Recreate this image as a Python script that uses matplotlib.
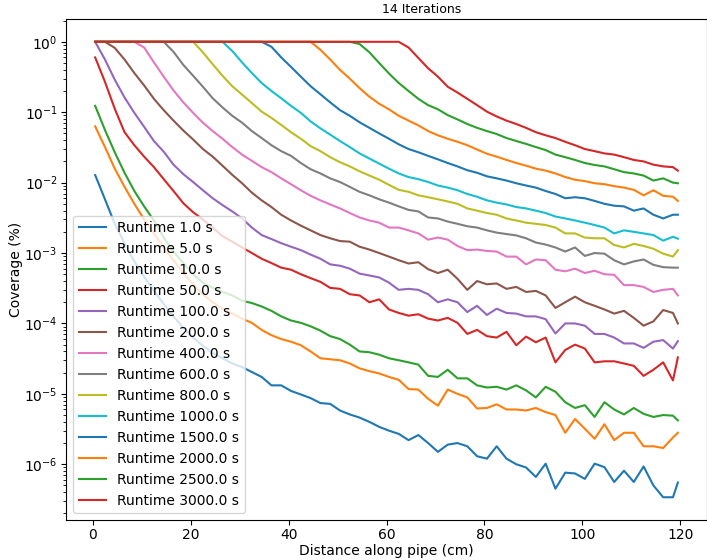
import matplotlib
matplotlib.use("Agg")
import matplotlib.pyplot as plt

# sample positions along the pipe (cm)
distance = [0.5, 2.5, 4.5, 6.5, 8.5, 10.5, 12.5, 14.5, 16.5, 18.5,
            20.5, 22.5, 24.5, 26.5, 28.5, 30.5, 32.5, 34.5, 36.5, 38.5,
            40.5, 42.5, 44.5, 46.5, 48.5, 50.5, 52.5, 54.5, 56.5, 58.5,
            60.5, 62.5, 64.5, 66.5, 68.5, 70.5, 72.5, 74.5, 76.5, 78.5,
            80.5, 82.5, 84.5, 86.5, 88.5, 90.5, 92.5, 94.5, 96.5, 98.5,
            100.5, 102.5, 104.5, 106.5, 108.5, 110.5, 112.5, 114.5, 116.5, 118.5,
            119.5]

runtimes = [1.0, 5.0, 10.0, 50.0, 100.0, 200.0, 400.0, 600.0, 800.0,
            1000.0, 1500.0, 2000.0, 2500.0, 3000.0]

cov_1 = [1.28e-2, 5.8e-3, 2.6e-3, 1.38e-3, 7.6e-4, 4.6e-4, 2.9e-4, 1.9e-4, 1.26e-4, 8.7e-5,
         6.3e-5, 4.8e-5, 3.8e-5, 3.2e-5, 2.7e-5, 2.4e-5, 2.04e-5, 1.74e-5, 1.32e-5, 1.32e-5,
         1.1e-5, 9.8e-6, 8.7e-6, 7.4e-6, 7.2e-6, 5.8e-6, 5.1e-6, 4.6e-6, 4.0e-6, 3.4e-6,
         3.0e-6, 2.7e-6, 2.2e-6, 2.6e-6, 2.0e-6, 1.5e-6, 1.9e-6, 2.0e-6, 1.8e-6, 1.3e-6,
         1.2e-6, 1.8e-6, 1.2e-6, 1.0e-6, 9.0e-7, 6.6e-7, 1.02e-6, 4.5e-7, 7.6e-7, 7.4e-7,
         6.2e-7, 1.02e-6, 9.1e-7, 5.6e-7, 8.1e-7, 5.6e-7, 9.3e-7, 5.0e-7, 3.4e-7, 3.4e-7,
         5.5e-7]
cov_5 = [6.3e-2, 3.2e-2, 1.58e-2, 8.7e-3, 5.0e-3, 3.0e-3, 1.9e-3, 1.2e-3, 7.9e-4, 5.2e-4,
         3.6e-4, 2.6e-4, 2.0e-4, 1.62e-4, 1.38e-4, 1.17e-4, 1.02e-4, 8.1e-5, 6.8e-5, 6.0e-5,
         5.5e-5, 4.9e-5, 4.0e-5, 3.2e-5, 3.1e-5, 3.0e-5, 2.7e-5, 2.3e-5, 2.1e-5, 1.95e-5,
         1.74e-5, 1.58e-5, 1.17e-5, 1.15e-5, 8.5e-6, 6.8e-6, 1.15e-5, 1.0e-5, 8.9e-6, 6.2e-6,
         6.3e-6, 7.1e-6, 6.0e-6, 6.0e-6, 5.8e-6, 6.3e-6, 5.5e-6, 5.0e-6, 2.8e-6, 4.4e-6,
         3.2e-6, 2.3e-6, 3.7e-6, 2.2e-6, 2.8e-6, 2.8e-6, 1.8e-6, 1.8e-6, 1.7e-6, 2.4e-6,
         2.8e-6]
cov_10 = [1.23e-1, 5.6e-2, 2.7e-2, 1.38e-2, 7.6e-3, 4.6e-3, 2.9e-3, 1.66e-3, 1.05e-3, 7.2e-4,
          5.0e-4, 3.8e-4, 3.2e-4, 2.8e-4, 2.5e-4, 2.1e-4, 1.95e-4, 1.74e-4, 1.51e-4, 1.26e-4,
          1.1e-4, 1.02e-4, 9.1e-5, 7.9e-5, 6.6e-5, 6.0e-5, 5.0e-5, 4.0e-5, 3.9e-5, 3.6e-5,
          3.2e-5, 3.0e-5, 2.8e-5, 2.6e-5, 1.8e-5, 1.74e-5, 2.2e-5, 1.66e-5, 1.66e-5, 1.32e-5,
          1.23e-5, 1.26e-5, 1.15e-5, 1.32e-5, 1.12e-5, 8.9e-6, 1.26e-5, 1.07e-5, 7.6e-6, 6.3e-6,
          6.9e-6, 4.7e-6, 7.6e-6, 6.0e-6, 5.1e-6, 6.3e-6, 5.2e-6, 4.7e-6, 5.0e-6, 4.9e-6,
          4.2e-6]
cov_50 = [6.0e-1, 2.7e-1, 1.12e-1, 5.2e-2, 3.4e-2, 2.34e-2, 1.66e-2, 1.12e-2, 7.6e-3, 5.1e-3,
          3.8e-3, 3.0e-3, 2.3e-3, 1.74e-3, 1.45e-3, 1.2e-3, 1.0e-3, 8.3e-4, 7.2e-4, 6.2e-4,
          5.8e-4, 5.0e-4, 4.4e-4, 3.9e-4, 3.2e-4, 3.1e-4, 2.6e-4, 2.5e-4, 2.0e-4, 2.2e-4,
          1.58e-4, 1.41e-4, 1.29e-4, 1.35e-4, 1.17e-4, 1.1e-4, 1.2e-4, 1.02e-4, 7.1e-5, 8.1e-5,
          6.6e-5, 6.3e-5, 7.6e-5, 4.9e-5, 6.5e-5, 5.4e-5, 6.3e-5, 2.8e-5, 4.2e-5, 5.0e-5,
          4.4e-5, 2.8e-5, 2.9e-5, 2.9e-5, 2.7e-5, 2.5e-5, 1.8e-5, 2.2e-5, 2.8e-5, 1.55e-5,
          3.3e-5]
cov_100 = [1.0, 5.6e-1, 2.9e-1, 1.62e-1, 9.8e-2, 6.2e-2, 3.9e-2, 2.75e-2, 1.8e-2, 1.32e-2,
           1.02e-2, 7.8e-3, 6.0e-3, 4.8e-3, 3.9e-3, 3.1e-3, 2.3e-3, 1.8e-3, 1.58e-3, 1.38e-3,
           1.23e-3, 1.1e-3, 9.5e-4, 8.3e-4, 6.9e-4, 6.6e-4, 6.0e-4, 5.1e-4, 4.8e-4, 4.5e-4,
           3.8e-4, 3.0e-4, 3.1e-4, 3.0e-4, 2.6e-4, 2.0e-4, 2.2e-4, 2.0e-4, 1.45e-4, 1.78e-4,
           1.32e-4, 1.62e-4, 1.41e-4, 1.38e-4, 1.26e-4, 1.26e-4, 1.15e-4, 7.2e-5, 1.0e-4, 1.0e-4,
           9.3e-5, 7.1e-5, 7.1e-5, 6.3e-5, 5.2e-5, 5.2e-5, 4.5e-5, 5.5e-5, 5.8e-5, 4.4e-5,
           5.6e-5]
cov_200 = [1.0, 1.0, 8.2e-1, 5.6e-1, 3.6e-1, 2.4e-1, 1.55e-1, 1.07e-1, 7.6e-2, 5.5e-2,
           4.1e-2, 3.0e-2, 2.34e-2, 1.74e-2, 1.29e-2, 9.8e-3, 7.2e-3, 5.6e-3, 4.5e-3, 3.5e-3,
           2.9e-3, 2.45e-3, 2.1e-3, 1.8e-3, 1.62e-3, 1.48e-3, 1.45e-3, 1.23e-3, 1.12e-3, 1.0e-3,
           8.9e-4, 7.9e-4, 7.1e-4, 7.4e-4, 5.9e-4, 5.2e-4, 5.8e-4, 4.3e-4, 3.0e-4, 4.0e-4,
           3.6e-4, 3.7e-4, 3.1e-4, 3.3e-4, 2.8e-4, 2.9e-4, 2.5e-4, 1.66e-4, 2.0e-4, 2.4e-4,
           2.0e-4, 1.78e-4, 1.58e-4, 1.38e-4, 1.51e-4, 1.2e-4, 9.3e-5, 1.07e-4, 1.55e-4, 1.41e-4,
           1.0e-4]
cov_400 = [1.0, 1.0, 1.0, 1.0, 1.0, 8.3e-1, 5.1e-1, 3.2e-1, 2.04e-1, 1.38e-1,
           9.8e-2, 7.1e-2, 5.4e-2, 4.2e-2, 3.2e-2, 2.5e-2, 2.04e-2, 1.66e-2, 1.41e-2, 1.15e-2,
           9.5e-3, 7.8e-3, 6.5e-3, 5.6e-3, 4.9e-3, 4.3e-3, 3.7e-3, 3.2e-3, 2.9e-3, 2.7e-3,
           2.3e-3, 2.3e-3, 2.1e-3, 1.9e-3, 1.55e-3, 1.66e-3, 1.55e-3, 1.26e-3, 1.1e-3, 1.12e-3,
           1.07e-3, 1.05e-3, 8.9e-4, 8.9e-4, 6.9e-4, 8.1e-4, 7.9e-4, 5.8e-4, 5.5e-4, 6.0e-4,
           5.2e-4, 5.6e-4, 5.0e-4, 4.9e-4, 3.5e-4, 3.5e-4, 3.3e-4, 2.8e-4, 3.0e-4, 3.1e-4,
           2.5e-4]
cov_600 = [1.0, 1.0, 1.0, 1.0, 1.0, 1.0, 1.0, 1.0, 7.2e-1, 4.7e-1,
           3.3e-1, 2.3e-1, 1.58e-1, 1.17e-1, 8.9e-2, 7.1e-2, 5.4e-2, 4.3e-2, 3.4e-2, 2.8e-2,
           2.4e-2, 1.9e-2, 1.55e-2, 1.35e-2, 1.15e-2, 1.02e-2, 8.7e-3, 7.4e-3, 6.6e-3, 5.8e-3,
           5.2e-3, 4.6e-3, 4.1e-3, 3.9e-3, 3.2e-3, 3.1e-3, 2.8e-3, 2.6e-3, 2.4e-3, 2.3e-3,
           2.1e-3, 1.95e-3, 1.86e-3, 1.78e-3, 1.62e-3, 1.41e-3, 1.32e-3, 1.2e-3, 1.05e-3, 1.2e-3,
           9.1e-4, 1.0e-3, 9.8e-4, 7.9e-4, 6.9e-4, 7.6e-4, 8.1e-4, 6.8e-4, 6.3e-4, 6.2e-4,
           6.2e-4]
cov_800 = [1.0, 1.0, 1.0, 1.0, 1.0, 1.0, 1.0, 1.0, 1.0, 1.0,
           1.0, 7.1e-1, 4.8e-1, 3.3e-1, 2.34e-1, 1.78e-1, 1.35e-1, 1.02e-1, 8.3e-2, 6.6e-2,
           5.2e-2, 4.2e-2, 3.3e-2, 2.8e-2, 2.3e-2, 1.95e-2, 1.7e-2, 1.45e-2, 1.26e-2, 1.1e-2,
           9.3e-3, 7.9e-3, 7.4e-3, 6.6e-3, 6.2e-3, 5.8e-3, 5.4e-3, 5.0e-3, 4.3e-3, 4.0e-3,
           3.7e-3, 3.5e-3, 3.1e-3, 2.9e-3, 2.7e-3, 2.6e-3, 2.5e-3, 2.3e-3, 1.9e-3, 1.9e-3,
           1.66e-3, 1.62e-3, 1.62e-3, 1.3e-3, 1.2e-3, 1.35e-3, 1.26e-3, 1.15e-3, 9.8e-4, 8.9e-4,
           1.1e-3]
cov_1000 = [1.0, 1.0, 1.0, 1.0, 1.0, 1.0, 1.0, 1.0, 1.0, 1.0,
            1.0, 1.0, 1.0, 1.0, 7.4e-1, 5.1e-1, 3.6e-1, 2.6e-1, 2.0e-1, 1.58e-1,
            1.23e-1, 9.8e-2, 7.4e-2, 5.9e-2, 4.8e-2, 3.9e-2, 3.2e-2, 2.6e-2, 2.2e-2, 1.86e-2,
            1.58e-2, 1.35e-2, 1.2e-2, 1.12e-2, 1.02e-2, 9.1e-3, 8.5e-3, 7.8e-3, 6.9e-3, 6.3e-3,
            5.6e-3, 5.2e-3, 4.9e-3, 4.5e-3, 4.3e-3, 4.0e-3, 3.7e-3, 3.3e-3, 3.1e-3, 2.9e-3,
            2.7e-3, 2.5e-3, 2.3e-3, 1.9e-3, 2.1e-3, 2.0e-3, 1.9e-3, 1.8e-3, 1.5e-3, 1.7e-3,
            1.6e-3]
cov_1500 = [1.0, 1.0, 1.0, 1.0, 1.0, 1.0, 1.0, 1.0, 1.0, 1.0,
            1.0, 1.0, 1.0, 1.0, 1.0, 1.0, 1.0, 1.0, 8.5e-1, 6.0e-1,
            4.4e-1, 3.2e-1, 2.34e-1, 1.8e-1, 1.38e-1, 1.07e-1, 8.9e-2, 7.2e-2, 6.0e-2, 5.0e-2,
            4.2e-2, 3.5e-2, 3.0e-2, 2.7e-2, 2.4e-2, 2.14e-2, 1.9e-2, 1.7e-2, 1.5e-2, 1.38e-2,
            1.23e-2, 1.15e-2, 1.07e-2, 9.8e-3, 9.1e-3, 8.5e-3, 7.6e-3, 6.9e-3, 6.0e-3, 6.2e-3,
            6.0e-3, 5.5e-3, 5.0e-3, 4.7e-3, 4.6e-3, 4.0e-3, 4.3e-3, 3.5e-3, 3.1e-3, 3.5e-3,
            3.5e-3]
cov_2000 = [1.0, 1.0, 1.0, 1.0, 1.0, 1.0, 1.0, 1.0, 1.0, 1.0,
            1.0, 1.0, 1.0, 1.0, 1.0, 1.0, 1.0, 1.0, 1.0, 1.0,
            1.0, 1.0, 1.0, 7.7e-1, 5.6e-1, 4.0e-1, 3.0e-1, 2.2e-1, 1.66e-1, 1.32e-1,
            1.1e-1, 8.9e-2, 7.6e-2, 6.5e-2, 5.4e-2, 4.7e-2, 4.2e-2, 3.8e-2, 3.4e-2, 2.95e-2,
            2.57e-2, 2.34e-2, 2.1e-2, 1.9e-2, 1.74e-2, 1.58e-2, 1.48e-2, 1.35e-2, 1.2e-2, 1.1e-2,
            1.05e-2, 9.8e-3, 9.5e-3, 8.9e-3, 8.5e-3, 7.9e-3, 6.6e-3, 7.8e-3, 6.5e-3, 6.3e-3,
            5.5e-3]
cov_2500 = [1.0, 1.0, 1.0, 1.0, 1.0, 1.0, 1.0, 1.0, 1.0, 1.0,
            1.0, 1.0, 1.0, 1.0, 1.0, 1.0, 1.0, 1.0, 1.0, 1.0,
            1.0, 1.0, 1.0, 1.0, 1.0, 1.0, 1.0, 9.3e-1, 7.1e-1, 5.0e-1,
            3.55e-1, 2.6e-1, 2.0e-1, 1.55e-1, 1.26e-1, 1.1e-1, 9.1e-2, 7.9e-2, 6.8e-2, 6.0e-2,
            5.4e-2, 4.9e-2, 4.3e-2, 3.9e-2, 3.55e-2, 3.2e-2, 2.9e-2, 2.5e-2, 2.3e-2, 2.1e-2,
            1.9e-2, 1.78e-2, 1.7e-2, 1.55e-2, 1.41e-2, 1.35e-2, 1.26e-2, 1.07e-2, 1.15e-2, 1.0e-2,
            9.8e-3]
cov_3000 = [1.0, 1.0, 1.0, 1.0, 1.0, 1.0, 1.0, 1.0, 1.0, 1.0,
            1.0, 1.0, 1.0, 1.0, 1.0, 1.0, 1.0, 1.0, 1.0, 1.0,
            1.0, 1.0, 1.0, 1.0, 1.0, 1.0, 1.0, 1.0, 1.0, 1.0,
            1.0, 1.0, 8.3e-1, 5.9e-1, 4.2e-1, 3.2e-1, 2.3e-1, 1.9e-1, 1.55e-1, 1.26e-1,
            1.02e-1, 8.7e-2, 7.6e-2, 6.8e-2, 6.0e-2, 5.2e-2, 4.7e-2, 4.3e-2, 3.8e-2, 3.4e-2,
            3.0e-2, 2.8e-2, 2.6e-2, 2.5e-2, 2.3e-2, 2.1e-2, 2.0e-2, 1.8e-2, 1.7e-2, 1.66e-2,
            1.48e-2]

coverage = [cov_1, cov_5, cov_10, cov_50, cov_100, cov_200, cov_400, cov_600,
            cov_800, cov_1000, cov_1500, cov_2000, cov_2500, cov_3000]

fig = plt.figure(figsize=(7.07, 5.6), dpi=100)
ax = fig.add_axes([0.0934, 0.0714, 0.9066, 0.8946])

for t, cov in zip(runtimes, coverage):
    ax.plot(distance, cov, label=f"Runtime {t} s")

ax.set_yscale("log")
ax.tick_params(axis="x", pad=2)
ax.tick_params(axis="y", pad=2.5)
ax.set_title("14 Iterations", fontsize=9, pad=4, x=0.554)
ax.set_xlabel("Distance along pipe (cm)", labelpad=2)
ax.set_ylabel("Coverage (%)", labelpad=1)
ax.legend(loc="lower left")

fig.savefig("out.png", dpi=100)
